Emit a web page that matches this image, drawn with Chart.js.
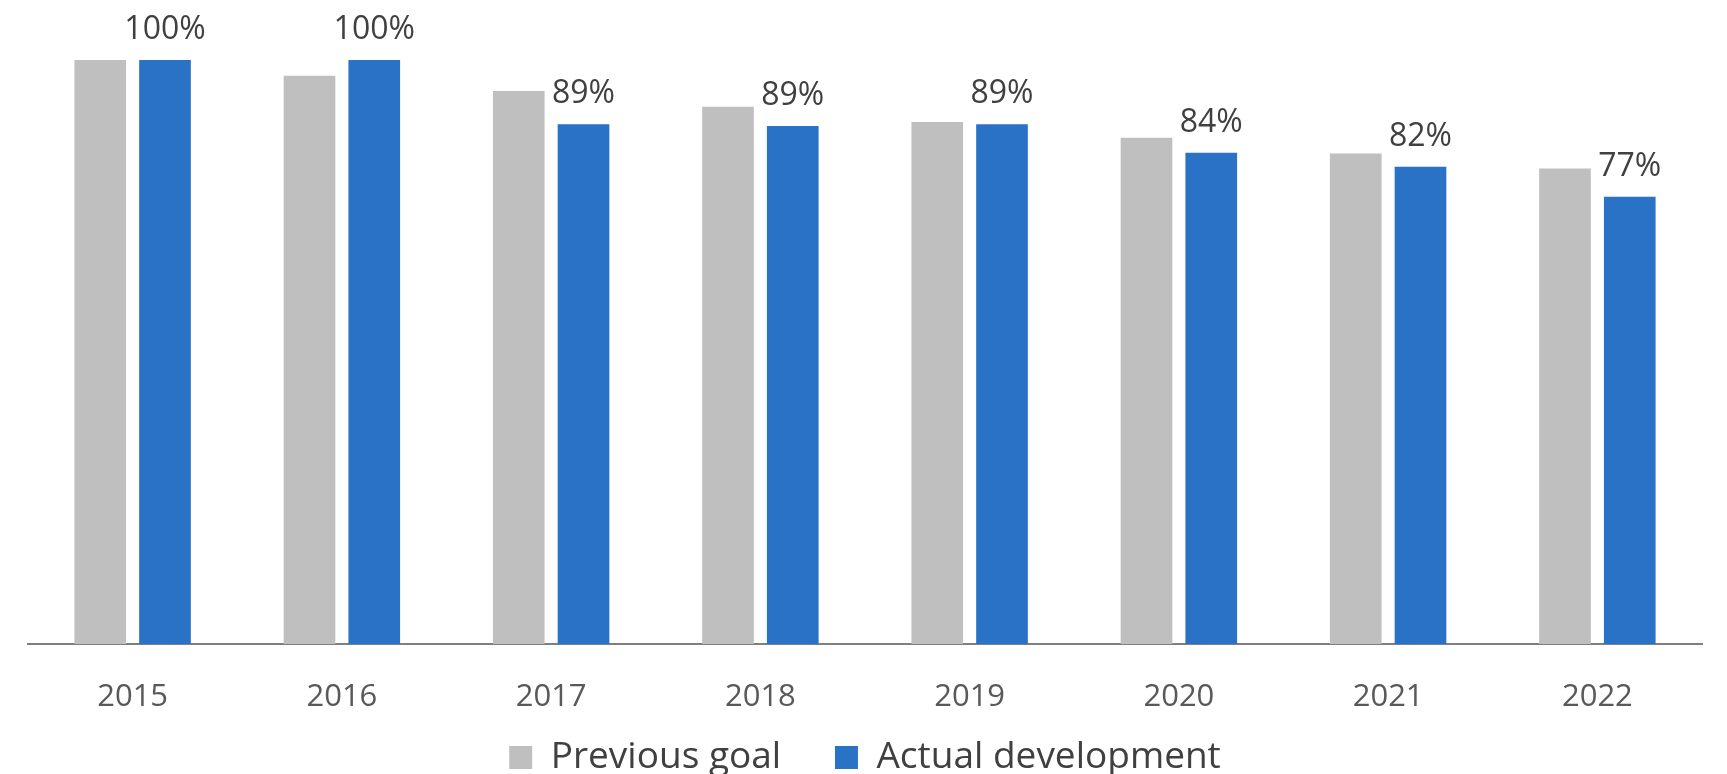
<!DOCTYPE html>
<html>
<head>
<meta charset="utf-8">
<script src="https://cdn.jsdelivr.net/npm/chart.js@4"></script>
<style>
  html, body { margin: 0; padding: 0; background: #fff; }
  #wrap { width: 1727px; height: 774px; }
</style>
</head>
<body>
<div id="wrap"><canvas id="barChart" width="1727" height="774"></canvas></div>
<script>
const ctx = document.getElementById('barChart')

let years = ['2015', '2016', '2017', '2018', '2019', '2020', '2021', '2022']
let previousGoal = [100, 97.3, 94.7, 92.0, 89.4, 86.7, 84.0, 81.4]
let actualDevelopment = [100, 100, 89.0, 88.7, 89.0, 84.1, 81.7, 76.6]
let seriesNames = ['Previous goal', 'Actual development']

const fontFamily = "'Open Sans', 'Noto Sans', sans-serif"

// percent labels above the blue bars
const valueLabels = {
    id: 'valueLabels',
    afterDatasetsDraw(chart) {
        const c = chart.ctx
        const meta = chart.getDatasetMeta(1)
        c.save()
        c.font = '32px ' + fontFamily
        c.fillStyle = '#404040'
        c.textAlign = 'center'
        c.textBaseline = 'alphabetic'
        meta.data.forEach((bar, i) => {
            c.fillText(Math.round(actualDevelopment[i]) + '%', bar.x, bar.y - 21)
        })
        c.restore()
    }
}

new Chart(ctx, {
    type: 'bar',
    data: {
        labels: years,
        datasets: [{
            label: seriesNames[0],
            data: previousGoal,
            backgroundColor: '#BFBFBF',
            borderWidth: 0,
            categoryPercentage: 0.619,
            barPercentage: 0.798,
        }, {
            label: seriesNames[1],
            data: actualDevelopment,
            backgroundColor: '#2A72C6',
            borderWidth: 0,
            categoryPercentage: 0.619,
            barPercentage: 0.798,
        }],
    },
    options: {
        responsive: false,
        animation: false,
        layout: {
            padding: { left: 28, right: 25, top: 60, bottom: -12 },
        },
        scales: {
            y: {
                display: false,
                min: 0,
                max: 100,
            },
            x: {
                grid: {
                    display: false,
                    drawTicks: false,
                },
                border: {
                    display: true,
                    color: '#7F7F7F',
                    width: 2,
                },
                ticks: {
                    color: '#595959',
                    padding: 35,
                    font: { size: 31, family: fontFamily },
                },
                afterFit: function (scale) {
                    scale.height = 70
                },
            },
        },
        plugins: {
            legend: {
                position: 'bottom',
                labels: {
                    color: '#404040',
                    boxWidth: 23,
                    boxHeight: 23,
                    padding: 25,
                    font: { size: 37, family: fontFamily },
                    // wider gap after the first item, like the original
                    generateLabels: function (chart) {
                        const items = Chart.defaults.plugins.legend.labels.generateLabels(chart)
                        items[0].text += '   '
                        return items
                    },
                },
            },
            tooltip: { enabled: false },
        },
    },
    plugins: [valueLabels],
})
</script>
</body>
</html>
